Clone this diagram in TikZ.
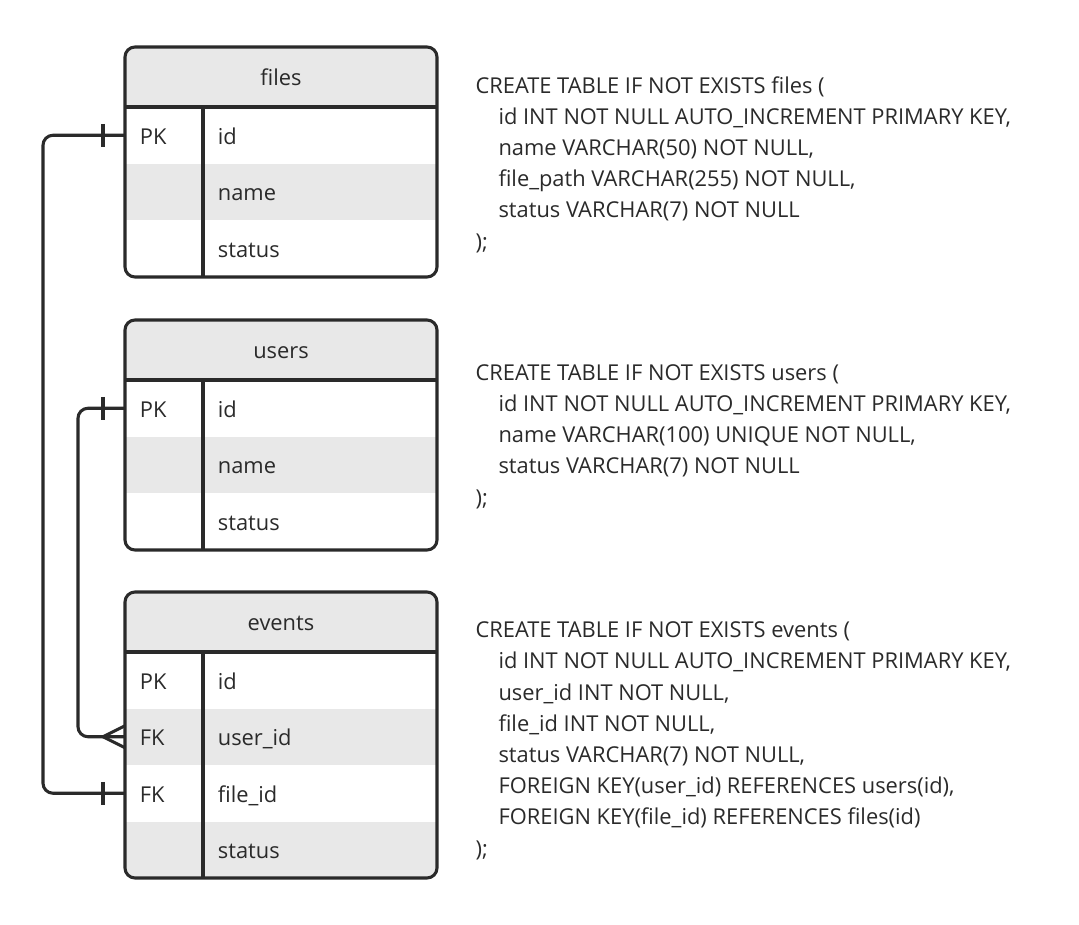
\documentclass[tikz,border=0pt]{standalone}
\usepackage{fontspec}
\setmainfont{Open Sans}
\definecolor{ink}{HTML}{2A2A2A}
\definecolor{band}{HTML}{E8E8E8}
\newcommand{\ind}{\hspace*{17.25pt}}

\begin{document}
\begin{tikzpicture}[x=0.75pt,y=-0.75pt,line width=2.3pt,draw=ink,
   every node/.style={text=ink,font=\fontsize{16.4}{23.4}\selectfont},
   row/.style={minimum width=234pt,minimum height=42.375pt,inner sep=0pt,outer sep=0pt,anchor=north west},
   head/.style={row,minimum height=45pt,fill=band,text height=13.2pt,text depth=0pt},
   shaded/.style={row,fill=band},
   plain/.style={row},
   key/.style={anchor=west,inner sep=0pt,text height=13.2pt,text depth=0pt,xshift=10pt},
   field/.style={anchor=west,inner sep=0pt,text height=13.2pt,text depth=0pt,xshift=68.5pt},
   frame/.style={draw=ink,rounded corners=7.5pt},
   conn/.style={draw=ink,rounded corners=7.5pt},
   sql/.style={anchor=base west,align=left,inner sep=0pt}]
   \useasboundingbox (0,0) rectangle (1079,925);

   % files
   \begin{scope}
      \clip[rounded corners=7.5pt] (125,47) rectangle (437,277);
      \node[head]   (fh) at (125,47)    {files};
      \node[plain]  (f1) at (125,107)   {};
      \node[shaded] (f2) at (125,163.5) {};
      \node[plain]  (f3) at (125,220)   {};
   \end{scope}
   \draw[frame] (125,47) rectangle (437,277);
   \draw (fh.south west) -- (fh.south east);
   \draw (203,107) -- (203,277);
   \node[key]   at (f1.west) {PK};
   \node[field] at (f1.west) {id};
   \node[field] at (f2.west) {name};
   \node[field] at (f3.west) {status};

   % users
   \begin{scope}
      \clip[rounded corners=7.5pt] (125,320) rectangle (437,550);
      \node[head]   (uh) at (125,320)   {users};
      \node[plain]  (u1) at (125,380)   {};
      \node[shaded] (u2) at (125,436.5) {};
      \node[plain]  (u3) at (125,493)   {};
   \end{scope}
   \draw[frame] (125,320) rectangle (437,550);
   \draw (uh.south west) -- (uh.south east);
   \draw (203,380) -- (203,550);
   \node[key]   at (u1.west) {PK};
   \node[field] at (u1.west) {id};
   \node[field] at (u2.west) {name};
   \node[field] at (u3.west) {status};

   % events
   \begin{scope}
      \clip[rounded corners=7.5pt] (125,592) rectangle (437,878);
      \node[head]   (eh) at (125,592)   {events};
      \node[plain]  (e1) at (125,652)   {};
      \node[shaded] (e2) at (125,708.5) {};
      \node[plain]  (e3) at (125,765)   {};
      \node[shaded] (e4) at (125,821.5) {};
   \end{scope}
   \draw[frame] (125,592) rectangle (437,878);
   \draw (eh.south west) -- (eh.south east);
   \draw (203,652) -- (203,878);
   \node[key]   at (e1.west) {PK};
   \node[field] at (e1.west) {id};
   \node[key]   at (e2.west) {FK};
   \node[field] at (e2.west) {user\_id};
   \node[key]   at (e3.west) {FK};
   \node[field] at (e3.west) {file\_id};
   \node[field] at (e4.west) {status};

   % relations
   \draw[conn] (f1.west) -- ++(-82,0) |- (e3.west);
   \draw[conn] (u1.west) -- ++(-47,0) |- (e2.west);
   \draw ([xshift=-16.5pt,yshift=8.6pt]f1.west) -- ([xshift=-16.5pt,yshift=-8.6pt]f1.west);
   \draw ([xshift=-16.5pt,yshift=8.6pt]u1.west) -- ([xshift=-16.5pt,yshift=-8.6pt]u1.west);
   \draw ([xshift=-16.5pt,yshift=8.6pt]e3.west) -- ([xshift=-16.5pt,yshift=-8.6pt]e3.west);
   \draw ([yshift=8.25pt]e2.west) -- ([xshift=-16.5pt]e2.west) -- ([yshift=-8.25pt]e2.west);

   % sql (anchored at the baseline of the last line)
   \node[sql] (fsql) at (474,249) {CREATE TABLE IF NOT EXISTS files (\\
      \ind id INT NOT NULL AUTO\_INCREMENT PRIMARY KEY,\\
      \ind name VARCHAR(50) NOT NULL,\\
      \ind file\_path VARCHAR(255) NOT NULL,\\
      \ind status VARCHAR(7) NOT NULL\\
      );};
   \node[sql] (usql) at (474,505) {CREATE TABLE IF NOT EXISTS users (\\
      \ind id INT NOT NULL AUTO\_INCREMENT PRIMARY KEY,\\
      \ind name VARCHAR(100) UNIQUE NOT NULL,\\
      \ind status VARCHAR(7) NOT NULL\\
      );};
   \node[sql] (esql) at (474,856) {CREATE TABLE IF NOT EXISTS events (\\
      \ind id INT NOT NULL AUTO\_INCREMENT PRIMARY KEY,\\
      \ind user\_id INT NOT NULL,\\
      \ind file\_id INT NOT NULL,\\
      \ind status VARCHAR(7) NOT NULL,\\
      \ind FOREIGN KEY(user\_id) REFERENCES users(id),\\
      \ind FOREIGN KEY(file\_id) REFERENCES files(id)\\
      );};
\end{tikzpicture}
\end{document}
